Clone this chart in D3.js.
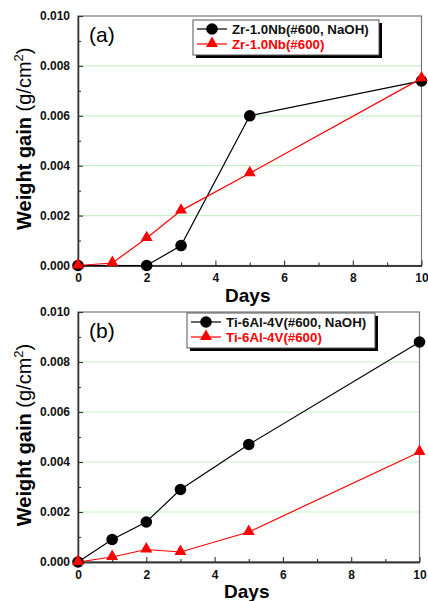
<!DOCTYPE html>
<html>
<head>
<meta charset="utf-8">
<script src="https://cdn.jsdelivr.net/npm/d3@7"></script>
<style>
  body { margin: 0; background: #fff; }
  svg { display: block; font-family: "Liberation Sans", Arial, sans-serif; }
</style>
</head>
<body>
<svg id="chart" width="428" height="601"></svg>
<script>
// data
var daysAll = [0, 1, 2, 3, 5, 10];
var zrNaohDays = [0, 2, 3, 5, 10];
var zrNaohGain = [0, 0, 0.0008, 0.0060, 0.0074];
var zrGain = [0, 0.0001, 0.0011, 0.0022, 0.0037, 0.0075];
var tiNaohGain = [0, 0.0009, 0.0016, 0.0029, 0.0047, 0.0088];
var tiGain = [0, 0.0002, 0.0005, 0.0004, 0.0012, 0.0044];

var xMajor = [0, 2, 4, 6, 8, 10];
var xMinor = [1, 3, 5, 7, 9];
var yMajor = [0, 0.002, 0.004, 0.006, 0.008, 0.010];
var yMinor = [0.001, 0.003, 0.005, 0.007, 0.009];
var gridVals = [0.002, 0.004, 0.006, 0.008];

var panels = [
    {
        tag: "(a)",
        left: 78, right: 421.5, top: 16, bottom: 265.5,
        legend: { x: 193, y: 20, w: 186, h: 35 },
        series: [
            { name: "Zr-1.0Nb(#600, NaOH)", days: zrNaohDays, vals: zrNaohGain, color: "#000", shape: "circle" },
            { name: "Zr-1.0Nb(#600)", days: daysAll, vals: zrGain, color: "#f00", shape: "triangle" }
        ]
    },
    {
        tag: "(b)",
        left: 78, right: 419.5, top: 312, bottom: 562,
        legend: { x: 187, y: 313, w: 188, h: 35 },
        series: [
            { name: "Ti-6Al-4V(#600, NaOH)", days: daysAll, vals: tiNaohGain, color: "#000", shape: "circle" },
            { name: "Ti-6Al-4V(#600)", days: daysAll, vals: tiGain, color: "#f00", shape: "triangle" }
        ]
    }
];

var svg = d3.select("#chart");

function drawMarker(g, shape, color, cx, cy) {
    if (shape === "circle") {
        g.append("circle").attr("cx", cx).attr("cy", cy).attr("r", 5.8).attr("fill", color);
    } else {
        g.append("path")
            .attr("d", d3.symbol().type(d3.symbolTriangle).size(62)())
            .attr("transform", "translate(" + cx + "," + (cy - 0.5) + ")")
            .attr("fill", color);
    }
}

panels.forEach(function (p) {
    var x = d3.scaleLinear().domain([0, 10]).range([p.left, p.right]);
    var y = d3.scaleLinear().domain([0, 0.010]).range([p.bottom, p.top]);
    var g = svg.append("g");

    //  Grid ---
    g.selectAll(".grid").data(gridVals).enter().append("line")
        .attr("x1", p.left).attr("x2", p.right)
        .attr("y1", function (d) { return y(d); })
        .attr("y2", function (d) { return y(d); })
        .attr("stroke", "#c4f2c4").attr("stroke-width", 1.2);

    //  Frame ---
    g.append("rect")
        .attr("x", p.left).attr("y", p.top)
        .attr("width", p.right - p.left).attr("height", p.bottom - p.top)
        .attr("fill", "none").attr("stroke", "#777").attr("stroke-width", 1.2);

    //  Axes ---
    var xAxis = d3.axisBottom(x).tickValues(xMajor).tickSizeInner(-5).tickSizeOuter(0).tickPadding(8)
        .tickFormat(d3.format("d"));
    var gx = g.append("g").attr("transform", "translate(0," + p.bottom + ")").call(xAxis);
    var gxm = g.append("g").attr("transform", "translate(0," + p.bottom + ")")
        .call(d3.axisBottom(x).tickValues(xMinor).tickSizeInner(-3).tickSizeOuter(0).tickFormat(""));

    var yAxis = d3.axisLeft(y).tickValues(yMajor).tickSizeInner(-5).tickSizeOuter(0).tickPadding(8)
        .tickFormat(d3.format(".3f"));
    var gy = g.append("g").attr("transform", "translate(" + p.left + ",0)").call(yAxis);
    var gym = g.append("g").attr("transform", "translate(" + p.left + ",0)")
        .call(d3.axisLeft(y).tickValues(yMinor).tickSizeInner(-3).tickSizeOuter(0).tickFormat(""));

    [gx, gxm, gy, gym].forEach(function (a) {
        a.select(".domain").attr("stroke", "#333").attr("stroke-width", 1.3);
        a.selectAll(".tick line").attr("stroke", "#333").attr("stroke-width", 1.1);
    });
    gx.selectAll(".tick text").attr("font-size", 12).attr("font-weight", "bold").attr("fill", "#111")
        .attr("font-family", "Liberation Sans, Arial, sans-serif");
    gy.selectAll(".tick text").attr("font-size", 12).attr("font-weight", "bold").attr("fill", "#111")
        .attr("font-family", "Liberation Sans, Arial, sans-serif");

    //  Titles ---
    g.append("text")
        .attr("x", (p.left + p.right) / 2 - 2).attr("y", p.bottom + 36)
        .attr("text-anchor", "middle").attr("font-size", 19).attr("font-weight", "bold")
        .text("Days");

    var yl = g.append("text")
        .attr("transform", "translate(31," + ((p.top + p.bottom) / 2 - 2) + ") rotate(-90)")
        .attr("text-anchor", "middle").attr("font-size", 20);
    yl.append("tspan").attr("font-weight", "bold").text("Weight gain ");
    yl.append("tspan").text("(g/cm");
    yl.append("tspan").attr("font-size", 13).attr("dy", -8).text("2");
    yl.append("tspan").attr("dy", 8).text(")");

    g.append("text")
        .attr("x", p.left + 11).attr("y", p.top + 26)
        .attr("font-size", 21)
        .text(p.tag);

    //  Series ---
    p.series.forEach(function (s) {
        var pts = s.days.map(function (d, i) { return [x(d), y(s.vals[i])]; });
        g.append("path")
            .attr("d", d3.line()(pts))
            .attr("fill", "none").attr("stroke", s.color).attr("stroke-width", 1.2);
        pts.forEach(function (pt) { drawMarker(g, s.shape, s.color, pt[0], pt[1]); });
    });

    //  Legend ---
    var L = p.legend;
    g.append("rect")
        .attr("x", L.x + 3).attr("y", L.y + 3).attr("width", L.w).attr("height", L.h)
        .attr("fill", "#000");
    g.append("rect")
        .attr("x", L.x).attr("y", L.y).attr("width", L.w).attr("height", L.h)
        .attr("fill", "#fff").attr("stroke", "#555").attr("stroke-width", 1);
    p.series.forEach(function (s, i) {
        var ry = L.y + 9 + i * 15;
        g.append("line")
            .attr("x1", L.x + 4).attr("x2", L.x + 34).attr("y1", ry).attr("y2", ry)
            .attr("stroke", s.color).attr("stroke-width", 1.2);
        drawMarker(g, s.shape, s.color, L.x + 19, ry);
        g.append("text")
            .attr("x", L.x + 39).attr("y", ry + 4.5)
            .attr("font-size", 13.3).attr("font-weight", "bold")
            .attr("fill", s.color === "#000" ? "#111" : "#f00")
            .text(s.name);
    });
});
</script>
</body>
</html>
